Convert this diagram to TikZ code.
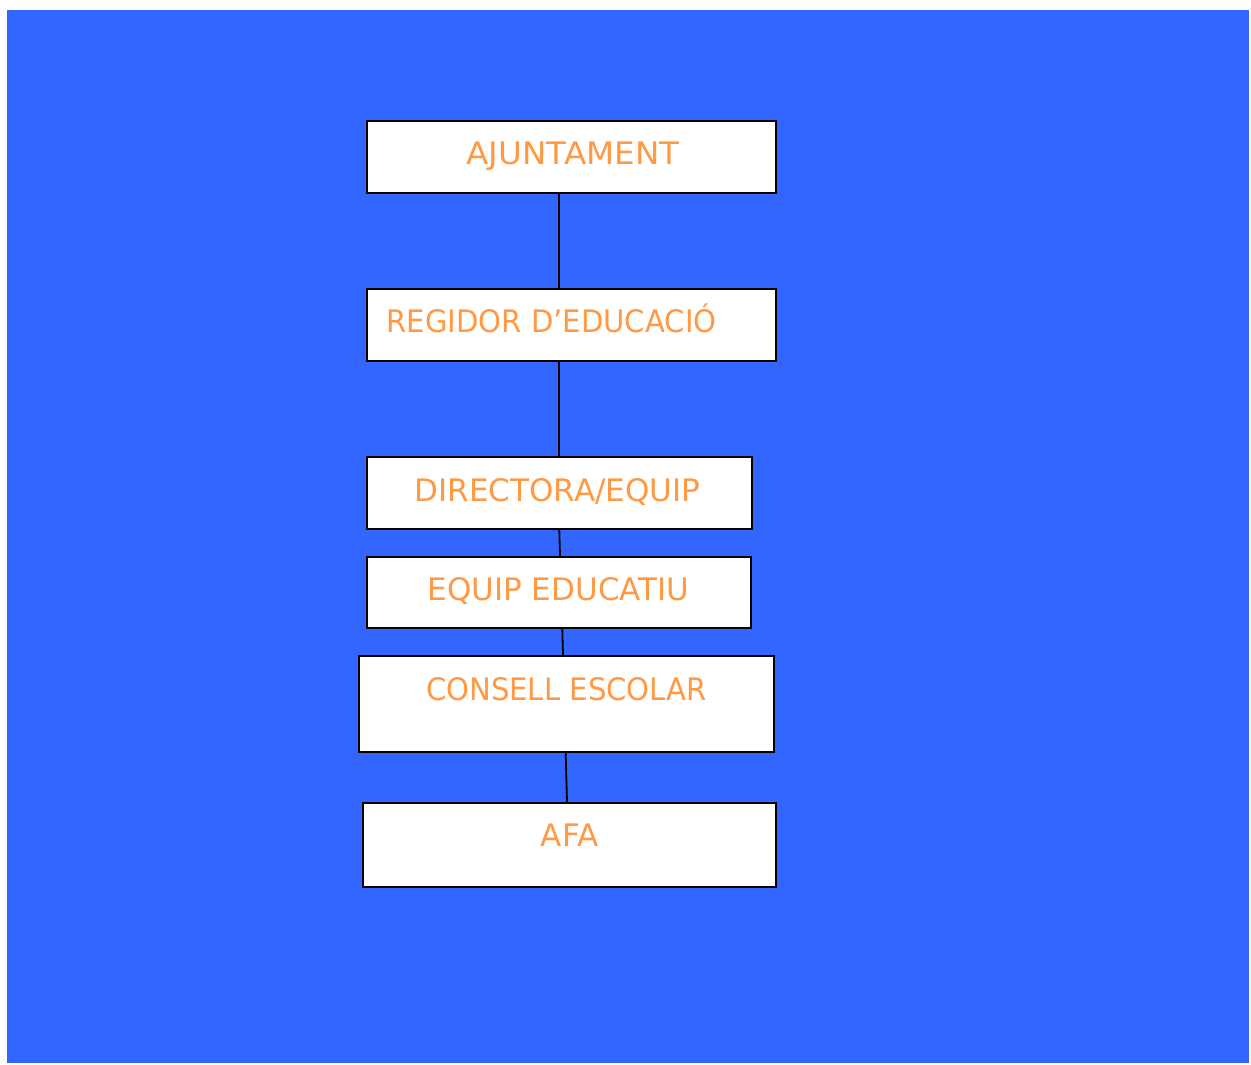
\documentclass[tikz,border=0pt]{standalone}
\usepackage{fontspec}
\usepackage{graphicx}
\setmainfont{DejaVu Sans}
\definecolor{bgblue}{HTML}{3366FF}
\definecolor{labelorange}{HTML}{FF9944}
\begin{document}
\begin{tikzpicture}[x=1pt,y=-1pt,
  orgbox/.style={draw=black,fill=white,line width=2pt,inner sep=0pt,outer sep=0pt},
  orglabel/.style={text=labelorange,anchor=base,inner sep=0pt,font=\fontsize{31}{36}\selectfont},
  link/.style={draw=black,line width=1.8pt}]
\useasboundingbox (0,0) rectangle (1251,1065);
\fill[white] (0,0) rectangle (1251,1065);
\fill[bgblue] (7,10) rectangle (1249,1063);
% boxes
\node[orgbox,minimum width=409pt,minimum height=72pt] (b1) at (571.5,157) {};
\node[orgbox,minimum width=409pt,minimum height=72pt] (b2) at (571.5,325) {};
\node[orgbox,minimum width=385pt,minimum height=72pt] (b3) at (559.5,493) {};
\node[orgbox,minimum width=384pt,minimum height=71pt] (b4) at (559,592.5) {};
\node[orgbox,minimum width=415pt,minimum height=96pt] (b5) at (566.5,704) {};
\node[orgbox,minimum width=413pt,minimum height=84pt] (b6) at (569.5,845) {};
% labels
\node[orglabel] (t1) at (573,164) {\scalebox{1.05}[1]{AJUNTAMENT}};
\node[orglabel] (t2) at (551.5,332) {\scalebox{0.94}[1]{REGIDOR D’EDUCACIÓ}};
\node[orglabel] (t3) at (557.5,501) {DIRECTORA/EQUIP};
\node[orglabel] (t4) at (558.5,600) {EQUIP EDUCATIU};
\node[orglabel] (t5) at (566.5,700) {\scalebox{0.94}[1]{CONSELL ESCOLAR}};
\node[orglabel] (t6) at (569.5,846) {AFA};
% connector end points
\coordinate (c1a) at (559,194);
\coordinate (c1b) at (559,288);
\coordinate (c2a) at (559,362);
\coordinate (c2b) at (559,456);
\coordinate (c3a) at (559.3,530);
\coordinate (c3b) at (560,556);
\coordinate (c4a) at (562.3,629);
\coordinate (c4b) at (563,655);
\coordinate (c5a) at (565.7,753);
\coordinate (c5b) at (567,802);
\draw[link] (c1a) -- (c1b);
\draw[link] (c2a) -- (c2b);
\draw[link] (c3a) -- (c3b);
\draw[link] (c4a) -- (c4b);
\draw[link] (c5a) -- (c5b);
\end{tikzpicture}
\end{document}
